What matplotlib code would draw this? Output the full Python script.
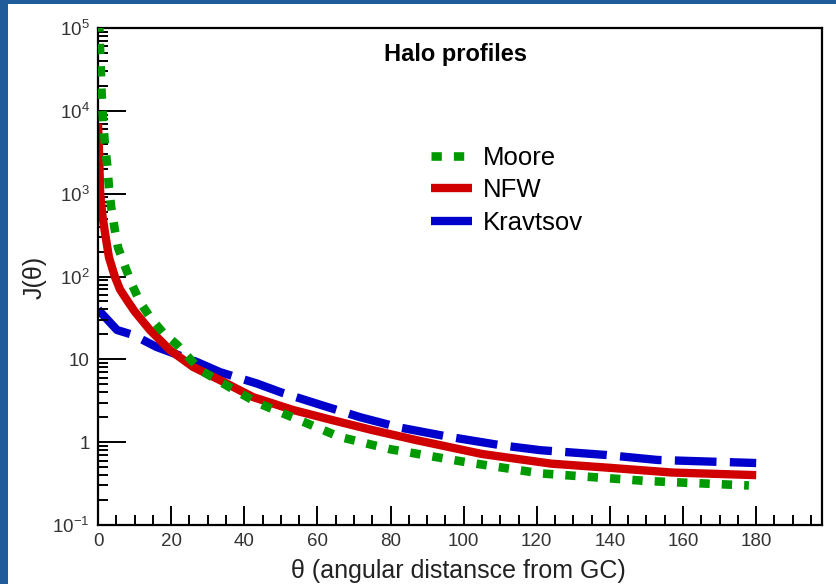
import numpy as np
import matplotlib.pyplot as plt
from matplotlib.patches import Rectangle
from matplotlib.ticker import FixedLocator, FuncFormatter, MultipleLocator

plt.rcParams['font.family'] = ['Liberation Sans', 'DejaVu Sans']
plt.rcParams['mathtext.fontset'] = 'custom'
plt.rcParams['mathtext.rm'] = 'Liberation Sans'

# J(theta) for the three halo profiles
theta_moore = [0.3, 0.6, 1.0, 1.4, 1.9, 2.5, 3.0, 3.6, 4.6, 5.5, 7.4, 9.3, 11.5,
               14.5, 17.8, 21.6, 28, 36, 43.5, 55, 66, 80, 100, 121, 150, 178]
j_moore = [1.2e5, 5e4, 1.6e4, 7400, 3900, 2240, 1200, 690, 365, 222, 132, 80, 49,
           31, 21, 15, 7.4, 4.6, 3.0, 1.85, 1.16, 0.82, 0.58, 0.42, 0.34, 0.30]

theta_nfw = [0, 0.3, 0.6, 1.2, 1.9, 3, 4.6, 6, 7.9, 10, 14.2, 19.7, 26, 33.4,
             42.4, 53.3, 64, 75, 87, 105, 124, 140, 157, 180]
j_nfw = [7000, 3000, 1000, 550, 340, 170, 100, 70, 52, 38, 22.6, 12.9, 8.1, 5.6,
         3.5, 2.45, 1.85, 1.4, 1.06, 0.72, 0.55, 0.49, 0.43, 0.40]

theta_krav = [0, 5.2, 9.6, 16, 20.5, 27, 33.4, 43.5, 50, 60, 71.7, 82.6, 96,
              110, 121, 139, 153, 180]
j_krav = [40, 22.6, 19.7, 14.1, 11.9, 9.3, 7.0, 5.1, 4.0, 2.9, 2.0, 1.5, 1.16,
          0.92, 0.80, 0.70, 0.61, 0.56]

fig = plt.figure(figsize=(8.36, 5.84), dpi=100, facecolor='#1f5c99')
# white canvas with a thin slide border at left and top
fig.patches.append(Rectangle((8 / 836, 0), 1, 1 - 4 / 584, transform=fig.transFigure,
                             facecolor='white', edgecolor='none', zorder=-10))

ax = fig.add_axes([98 / 836, 1 - 525 / 584, (822 - 98) / 836, (525 - 28) / 584])
ax.set_yscale('log')
ax.set_xlim(0, 198)
ax.set_ylim(0.1, 1e5)

ax.plot(theta_moore, j_moore, color='#009a00', lw=6.2,
        linestyle=(0, (1.2, 1.4)), dash_capstyle='butt', label='Moore', zorder=3)
ax.plot(theta_nfw, j_nfw, color='#d00000', lw=6, solid_capstyle='butt',
        label='NFW', zorder=2)
ax.plot(theta_krav, j_krav, color='#0000cc', lw=6, linestyle=(0, (5, 1.6)),
        dash_capstyle='butt', label='Kravtsov', zorder=1)

for side in ['left', 'bottom', 'top', 'right']:
    ax.spines[side].set_linewidth(1.6)
ax.tick_params(which='both', direction='in', top=False, right=False, width=1.4,
               labelsize=13.5, colors='black', labelcolor='#333333')
ax.tick_params(which='major', length=14, pad=6)
ax.tick_params(which='minor', length=7)
ax.tick_params(axis='y', which='major', length=20)

ax.xaxis.set_major_locator(MultipleLocator(20))
ax.xaxis.set_minor_locator(MultipleLocator(5))
ax.yaxis.set_major_locator(FixedLocator([0.1, 1, 10, 1e2, 1e3, 1e4, 1e5]))
ax.yaxis.set_minor_locator(FixedLocator(
    [m * 10.0 ** e for e in range(-1, 5) for m in range(2, 10)]))


def ylabel_fmt(v, pos):
    e = int(round(np.log10(v)))
    if e == 0:
        return '1'
    if e == 1:
        return '10'
    return r'$\mathregular{10^{%d}}$' % e


ax.yaxis.set_major_formatter(FuncFormatter(ylabel_fmt))

fig.text(458 / 836, 1 - 571 / 584, 'θ (angular distansce from GC)', fontsize=18,
         color='#222222', ha='center', va='center')
fig.text(35 / 836, 1 - 277 / 584, 'J(θ)', rotation=90, fontsize=18,
         color='#222222', ha='center', va='center')
fig.text(455 / 836, 1 - 54 / 584, 'Halo profiles', fontsize=17,
         fontweight='bold', ha='center', va='center')

ax.legend(loc='upper left', bbox_to_anchor=(431 / 836, 1 - 146 / 584),
          bbox_transform=fig.transFigure, frameon=False, fontsize=18.5,
          handlelength=1.6, handletextpad=0.4, labelspacing=0.33,
          borderpad=0, borderaxespad=0)

fig.savefig('out.png', dpi=100, facecolor=fig.get_facecolor())
